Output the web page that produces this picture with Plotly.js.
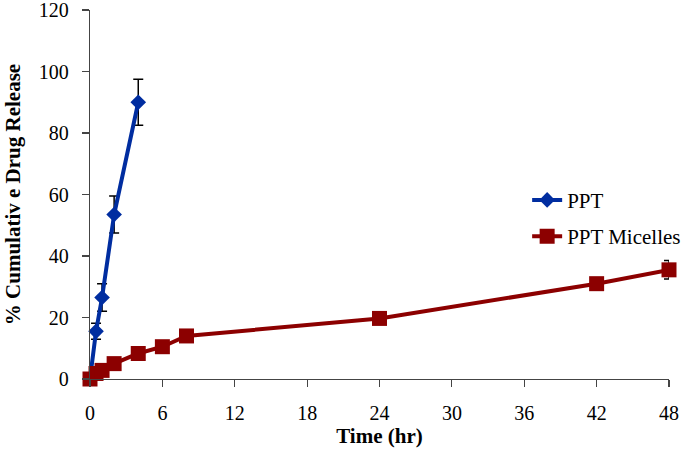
<!DOCTYPE html>
<html>
<head>
<meta charset="utf-8">
<script src="https://cdn.plot.ly/plotly-3.0.1.min.js"></script>
<style>
  html, body { margin: 0; padding: 0; background: #fff; }
  #releaseChart { width: 685px; height: 449px; }
</style>
</head>
<body>
<div id="releaseChart"></div>
<script>
// Values
var pptTime = [0, 0.5, 1, 2, 4];
var pptRelease = [0, 15.5, 26.5, 53.5, 90];
var pptError = [0, 2.6, 4.5, 6, 7.5];

var micelleTime = [0, 0.5, 1, 2, 4, 6, 8, 24, 42, 48];
var micelleRelease = [0, 1.8, 2.8, 5, 8.3, 10.5, 14, 19.7, 31, 35.5];
var micelleError = [0, 0.5, 0.5, 0.8, 1, 1, 1, 1.2, 1.5, 3];

var xTicks = [0, 6, 12, 18, 24, 30, 36, 42, 48];
var yTicks = [0, 20, 40, 60, 80, 100, 120];

var serif = "Liberation Serif";

var pptTrace = {
    type: 'scatter',
    mode: 'lines+markers',
    name: 'PPT',
    legendgroup: 'a',
    x: pptTime,
    y: pptRelease,
    line: { color: 'rgb(0, 45, 160)', width: 4 },
    marker: { symbol: 'diamond', size: 12, color: 'rgb(0, 45, 160)' },
    error_y: { type: 'data', array: pptError, visible: true, color: '#000', thickness: 1.5, width: 5 },
    cliponaxis: false
};

var micelleTrace = {
    type: 'scatter',
    mode: 'lines+markers',
    name: 'PPT Micelles',
    legendgroup: 'b',
    x: micelleTime,
    y: micelleRelease,
    line: { color: 'rgb(140, 0, 0)', width: 4 },
    marker: { symbol: 'square', size: 15, color: 'rgb(140, 0, 0)' },
    error_y: { type: 'data', array: micelleError, visible: true, color: '#000', thickness: 1.5, width: 5 },
    cliponaxis: false
};

var layout = {
    width: 685,
    height: 449,
    // fixed margins so the wide legend does not squeeze the plot
    margin: { l: 90, r: 16, t: 10, b: 70, autoexpand: false },
    paper_bgcolor: '#fff',
    plot_bgcolor: '#fff',
    font: { family: serif },
    showlegend: true,
    legend: {
        x: 0.755, y: 0.54, xanchor: 'left', yanchor: 'top',
        font: { family: serif, size: 21, color: '#000' },
        traceorder: 'grouped',
        tracegroupgap: 6,
        bgcolor: 'rgba(0,0,0,0)'
    },
    xaxis: {
        range: [0, 48],
        tickvals: xTicks,
        automargin: false,
        ticklabeloverflow: 'allow',
        ticks: 'outside', ticklen: 7, tickwidth: 1.2, tickcolor: '#444',
        showline: true, linecolor: '#444', linewidth: 1.2,
        showgrid: false, zeroline: false,
        ticklabelstandoff: 9,
        tickfont: { family: serif, size: 20, color: '#000' },
        title: { text: '<b>Time (hr)</b>', font: { family: serif, size: 21, color: '#000' }, standoff: 3 }
    },
    yaxis: {
        range: [0, 120],
        tickvals: yTicks,
        automargin: false,
        ticklabeloverflow: 'allow',
        ticks: 'outside', ticklen: 7, tickwidth: 1.2, tickcolor: '#444',
        showline: true, linecolor: '#444', linewidth: 1.2,
        showgrid: false, zeroline: false,
        ticklabelstandoff: 9,
        tickfont: { family: serif, size: 20, color: '#000' },
        title: { text: '<b>% Cumulativ e Drug Release</b>', font: { family: serif, size: 21, color: '#000' }, standoff: 12 }
    }
};

Plotly.newPlot('releaseChart', [pptTrace, micelleTrace], layout, { displayModeBar: false, staticPlot: true });
</script>
</body>
</html>
